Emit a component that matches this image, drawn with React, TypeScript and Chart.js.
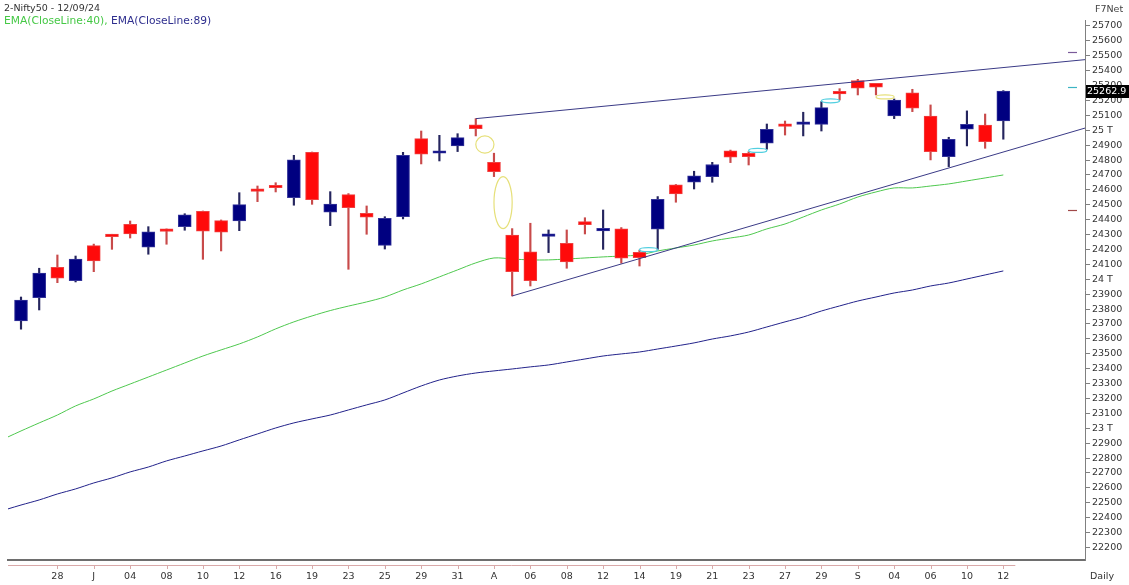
import React, { useEffect, useRef } from "react";
import { Chart, registerables } from "chart.js";

Chart.register(...registerables);

// ---------- DATA ----------
const xLabels = ["", "", "28", "", "J", "", "04", "", "08", "", "10", "", "12", "", "16", "", "19", "", "23", "", "25", "", "29", "", "31", "", "A", "", "06", "", "08", "", "12", "", "14", "", "19", "", "21", "", "23", "", "27", "", "29", "", "S", "", "04", "", "06", "", "10", "", "12"];

const opens = [23720, 23877, 24080, 23990, 24226, 24291, 24369, 24215, 24328, 24353, 24456, 24394, 24391, 24598, 24620, 24548, 24852, 24450, 24568, 24443, 24228, 24420, 24944, 24846, 24895, 25036, 24785, 24297, 24185, 24288, 24242, 24387, 24324, 24338, 24181, 24336, 24633, 24651, 24689, 24862, 24846, 24913, 25032, 25040, 25040, 25257, 25333, 25315, 25096, 25252, 25096, 24823, 25007, 25034, 25062];
const highs = [23881, 24074, 24163, 24156, 24236, 24302, 24391, 24353, 24338, 24440, 24458, 24398, 24581, 24626, 24648, 24832, 24854, 24588, 24575, 24492, 24420, 24852, 24995, 24966, 24977, 25078, 24846, 24340, 24376, 24331, 24331, 24413, 24465, 24347, 24196, 24555, 24636, 24725, 24785, 24867, 24856, 25042, 25062, 25121, 25192, 25279, 25342, 25315, 25210, 25275, 25170, 24953, 25130, 25109, 25266];
const lows = [23665, 23794, 23977, 23982, 24051, 24201, 24277, 24168, 24235, 24329, 24134, 24190, 24326, 24521, 24586, 24497, 24503, 24360, 24067, 24302, 24203, 24405, 24774, 24794, 24857, 24962, 24689, 23888, 23955, 24179, 24074, 24304, 24201, 24108, 24089, 24201, 24517, 24606, 24651, 24783, 24767, 24873, 24968, 24962, 24995, 25203, 25237, 25237, 25078, 25125, 24801, 24756, 24895, 24879, 24940];
const closes = [23861, 24042, 24007, 24136, 24123, 24286, 24304, 24318, 24321, 24432, 24322, 24316, 24501, 24590, 24614, 24801, 24534, 24505, 24481, 24416, 24409, 24832, 24839, 24858, 24951, 25011, 24722, 24051, 23991, 24295, 24116, 24367, 24342, 24141, 24145, 24537, 24573, 24695, 24770, 24819, 24823, 25007, 25026, 25054, 25152, 25244, 25282, 25289, 25203, 25148, 24857, 24940, 25040, 24924, 25262.9];

const ema40 = [22982, 23036, 23089, 23150, 23197, 23250, 23297, 23344, 23391, 23438, 23485, 23526, 23566, 23613, 23667, 23714, 23754, 23790, 23820, 23848, 23881, 23928, 23969, 24016, 24063, 24110, 24143, 24136, 24130, 24130, 24136, 24143, 24150, 24156, 24163, 24190, 24210, 24230, 24257, 24277, 24297, 24338, 24371, 24418, 24465, 24505, 24552, 24586, 24613, 24613, 24626, 24640, 24660, 24680, 24700];
const ema89 = [22485, 22519, 22559, 22593, 22633, 22667, 22707, 22740, 22781, 22814, 22848, 22881, 22922, 22962, 23002, 23036, 23063, 23089, 23123, 23157, 23190, 23237, 23284, 23324, 23351, 23371, 23385, 23398, 23412, 23425, 23445, 23465, 23485, 23499, 23512, 23532, 23552, 23573, 23599, 23620, 23646, 23680, 23714, 23747, 23787, 23821, 23854, 23881, 23908, 23928, 23955, 23975, 24002, 24029, 24056];
const ema40LeftEdge = 22942;
const ema89LeftEdge = 22459;

const upperTrend = [{ x: 25, y: 25078 }, { x: 58.5, y: 25474 }];
const lowerTrend = [{ x: 27, y: 23888 }, { x: 58.5, y: 25015 }];

const yTickValues = [22200, 22300, 22400, 22500, 22600, 22700, 22800, 22900, 23000, 23100, 23200, 23300, 23400, 23500, 23600, 23700, 23800, 23900, 24000, 24100, 24200, 24300, 24400, 24500, 24600, 24700, 24800, 24900, 25000, 25100, 25200, 25300, 25400, 25500, 25600, 25700];
const yTickLabels = ["22200", "22300", "22400", "22500", "22600", "22700", "22800", "22900", "23 T", "23100", "23200", "23300", "23400", "23500", "23600", "23700", "23800", "23900", "24 T", "24100", "24200", "24300", "24400", "24500", "24600", "24700", "24800", "24900", "25 T", "25100", "25200", "25300", "25400", "25500", "25600", "25700"];

const axisMarkerValues = [25523, 25289, 24465];
const axisMarkerColors = ["#7a5a9a", "#3cb4c4", "#a04848"];

// ---------- STYLE ----------
const FONT = '"DejaVu Sans", Verdana, sans-serif';
const UP_FILL = "#000080";
const UP_BORDER = "#34349a";
const DOWN_FILL = "#ff0a0a";
const DOWN_BORDER = "#f04040";
const UP_WICK = "#25255e";
const DOWN_WICK = "#c84a4a";
const X_MIN = -0.715;
const X_MAX = 58.49;

const isUp = (i: number) => closes[i] >= opens[i];

const overlayPlugin = {
  id: "overlay",
  afterDatasetsDraw(chart: any) {
    const { ctx, chartArea: a, scales } = chart;
    const xs = scales.x;
    const ys = scales.y;
    ctx.save();
    ctx.beginPath();
    ctx.rect(a.left, a.top, a.right - a.left, a.bottom - a.top);
    ctx.clip();
    ctx.lineWidth = 1.2;
    for (let i = 0; i < opens.length - 1; i++) {
      let top: number | null = null;
      let bot: number | null = null;
      let color = "";
      if (lows[i] > highs[i + 1]) {
        top = lows[i];
        bot = highs[i + 1];
        color = "#e6e07a";
      } else if (highs[i] < lows[i + 1]) {
        top = lows[i + 1];
        bot = highs[i];
        color = "#52cfe0";
      }
      if (top === null || bot === null) continue;
      const x0 = xs.getPixelForValue(i);
      const x1 = xs.getPixelForValue(i + 1);
      const y0 = ys.getPixelForValue(top);
      const y1 = ys.getPixelForValue(bot);
      const ry = Math.max((y1 - y0) / 2, 2);
      ctx.beginPath();
      ctx.ellipse((x0 + x1) / 2, (y0 + y1) / 2, (x1 - x0) / 2, ry, 0, 0, Math.PI * 2);
      ctx.strokeStyle = color;
      ctx.stroke();
    }
    ctx.restore();
  },
  afterDraw(chart: any) {
    const { ctx, chartArea: a, scales } = chart;
    const xs = scales.x;
    const ys = scales.y;
    ctx.save();
    // pink date rule with ticks
    const yLine = a.bottom + 5.5;
    ctx.strokeStyle = "#d9a9a9";
    ctx.lineWidth = 1;
    ctx.beginPath();
    ctx.moveTo(a.left, yLine);
    ctx.lineTo(xs.getPixelForValue(opens.length - 1) + 12, yLine);
    xs.ticks.forEach((t: any) => {
      const px = Math.round(xs.getPixelForValue(t.value)) + 0.5;
      ctx.moveTo(px, yLine);
      ctx.lineTo(px, yLine + 3.5);
    });
    ctx.stroke();
    // markers left of price axis
    axisMarkerValues.forEach((v, k) => {
      const py = Math.round(ys.getPixelForValue(v)) + 0.5;
      ctx.strokeStyle = axisMarkerColors[k];
      ctx.lineWidth = 1.2;
      ctx.beginPath();
      ctx.moveTo(a.right - 17, py);
      ctx.lineTo(a.right - 8, py);
      ctx.stroke();
    });
    // last price box
    const last = closes[closes.length - 1];
    const py = ys.getPixelForValue(last);
    ctx.fillStyle = "#000";
    ctx.fillRect(a.right + 1, Math.round(py - 6.5), 46, 13);
    ctx.fillStyle = "#fff";
    ctx.font = `9.5px ${FONT}`;
    ctx.textBaseline = "middle";
    ctx.textAlign = "left";
    ctx.fillText(last.toFixed(1), a.right + 2, py + 0.5);
    ctx.restore();
  },
};

export default function App() {
  const ref = useRef<HTMLCanvasElement>(null);

  useEffect(() => {
    if (!ref.current) return;
    const idx = opens.map((_, i) => i);
    const chart = new Chart(ref.current, {
      type: "bar",
      data: {
        datasets: [
          {
            type: "line",
            label: "upper",
            data: upperTrend,
            borderColor: "#3a3a86",
            borderWidth: 1,
            pointRadius: 0,
            order: 0,
          } as any,
          {
            type: "line",
            label: "lower",
            data: lowerTrend,
            borderColor: "#3a3a86",
            borderWidth: 1,
            pointRadius: 0,
            order: 0,
          } as any,
          {
            type: "bar",
            label: "body",
            data: idx.map((i) => ({ x: i, y: [opens[i], closes[i]] })),
            backgroundColor: idx.map((i) => (isUp(i) ? UP_FILL : DOWN_FILL)),
            borderColor: idx.map((i) => (isUp(i) ? UP_BORDER : DOWN_BORDER)),
            borderWidth: 1,
            borderSkipped: false,
            barThickness: 13,
            minBarLength: 2.5,
            grouped: false,
            order: 1,
          } as any,
          {
            type: "bar",
            label: "wick",
            data: idx.map((i) => ({ x: i, y: [lows[i], highs[i]] })),
            backgroundColor: idx.map((i) => (isUp(i) ? UP_WICK : DOWN_WICK)),
            borderWidth: 0,
            barThickness: 1.5,
            grouped: false,
            order: 2,
          } as any,
          {
            type: "line",
            label: "EMA40",
            data: [{ x: X_MIN, y: ema40LeftEdge }, ...idx.map((i) => ({ x: i, y: ema40[i] }))],
            borderColor: "#4ec84e",
            borderWidth: 1,
            pointRadius: 0,
            tension: 0.3,
            order: 3,
          } as any,
          {
            type: "line",
            label: "EMA89",
            data: [{ x: X_MIN, y: ema89LeftEdge }, ...idx.map((i) => ({ x: i, y: ema89[i] }))],
            borderColor: "#22228a",
            borderWidth: 1,
            pointRadius: 0,
            tension: 0.3,
            order: 4,
          } as any,
        ],
      },
      options: {
        animation: false,
        responsive: false,
        devicePixelRatio: 1,
        events: [],
        layout: { padding: { left: 8, top: 20, right: 0, bottom: 0 } },
        plugins: {
          legend: { display: false },
          tooltip: { enabled: false },
          title: { display: false },
        },
        scales: {
          x: {
            type: "linear",
            min: X_MIN,
            max: X_MAX,
            offset: false,
            afterBuildTicks: (s: any) => {
              s.ticks = xLabels
                .map((l, i) => ({ value: i, l }))
                .filter((t) => t.l !== "")
                .map((t) => ({ value: t.value }));
            },
            afterFit: (s: any) => {
              s.height = 25;
            },
            ticks: {
              autoSkip: false,
              maxRotation: 0,
              minRotation: 0,
              padding: 11,
              color: "#333",
              font: { family: FONT, size: 9.5 },
              callback: (v: any) => xLabels[Math.round(Number(v))] ?? "",
            },
            grid: { display: false, drawTicks: false, offset: false },
            border: { display: true, color: "#6e6e6e", width: 2 },
          },
          y: {
            type: "linear",
            position: "right",
            min: 22116,
            max: 25740,
            beginAtZero: false,
            afterBuildTicks: (s: any) => {
              s.ticks = yTickValues.map((v) => ({ value: v }));
            },
            afterFit: (s: any) => {
              s.width = 44;
            },
            ticks: {
              autoSkip: false,
              padding: 2,
              color: "#333",
              font: { family: FONT, size: 9.5 },
              callback: (v: any) => {
                const k = yTickValues.indexOf(Number(v));
                return k >= 0 ? yTickLabels[k] : "";
              },
            },
            grid: {
              display: true,
              drawOnChartArea: false,
              drawTicks: true,
              tickLength: 5,
              color: "#808080",
            },
            border: { display: true, color: "#808080", width: 1 },
          },
        },
      } as any,
      plugins: [overlayPlugin],
    });
    return () => chart.destroy();
  }, []);

  return (
    <div
      style={{
        position: "fixed",
        left: 0,
        top: 0,
        width: 1129,
        height: 585,
        background: "#fff",
        fontFamily: FONT,
        overflow: "hidden",
      }}
    >
      <canvas ref={ref} width={1129} height={585} style={{ position: "absolute", left: 0, top: 0 }} />
      <div
        style={{
          position: "absolute",
          left: 4,
          top: 1,
          color: "#333",
          whiteSpace: "pre",
        }}
      >
        <div style={{ fontSize: 9.5, lineHeight: "13px" }}>2-Nifty50 - 12/09/24</div>
        <div style={{ fontSize: 10.7, lineHeight: "13px" }}>
          <span style={{ color: "#45c845" }}>EMA(CloseLine:40),</span>{" "}
          <span style={{ color: "#2e2e8e" }}>EMA(CloseLine:89)</span>
        </div>
      </div>
      <div style={{ position: "absolute", left: 1095, top: 3, fontSize: 9.5, color: "#444" }}>F7Net</div>
      <div style={{ position: "absolute", left: 1090, top: 570, fontSize: 9.5, color: "#333" }}>Daily</div>
    </div>
  );
}
